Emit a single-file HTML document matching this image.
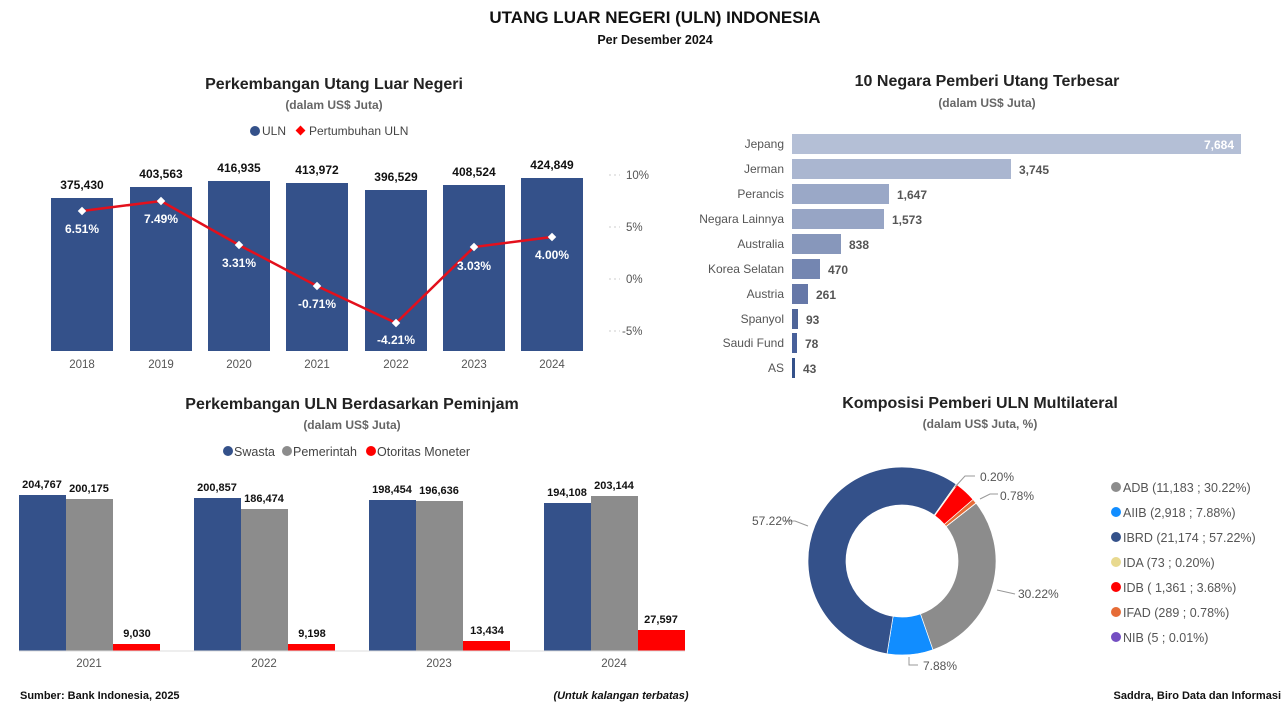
<!DOCTYPE html>
<html><head><meta charset="utf-8"><style>
body{margin:0;width:1286px;height:706px;background:#fff;overflow:hidden;font-family:"Liberation Sans",sans-serif}
svg text{font-family:"Liberation Sans",sans-serif}
</style></head><body>
<svg width="1286" height="706" viewBox="0 0 1286 706" xmlns="http://www.w3.org/2000/svg">
<text x="655" y="23" text-anchor="middle" font-size="17" font-weight="bold" fill="#111">UTANG LUAR NEGERI (ULN) INDONESIA</text>
<text x="655" y="44" text-anchor="middle" font-size="12.5" font-weight="bold" fill="#111">Per Desember 2024</text>

<!-- Chart 1 -->
<text x="334" y="89" text-anchor="middle" font-size="16" font-weight="bold" fill="#222">Perkembangan Utang Luar Negeri</text>
<text x="334" y="109" text-anchor="middle" font-size="12" font-weight="bold" fill="#666">(dalam US$ Juta)</text>
<circle cx="255" cy="131" r="5" fill="#34518a"/><text x="262" y="135" font-size="12" fill="#444">ULN</text>
<rect x="297" y="127" width="7" height="7" fill="#f00" transform="rotate(45 300.5 130.5)"/><text x="309" y="135" font-size="12" fill="#444">Pertumbuhan ULN</text>
<g fill="#34518a">
<rect x="51" y="198" width="62" height="153"/>
<rect x="130" y="187" width="62" height="164"/>
<rect x="208" y="181" width="62" height="170"/>
<rect x="286" y="183" width="62" height="168"/>
<rect x="365" y="190" width="62" height="161"/>
<rect x="443" y="185" width="62" height="166"/>
<rect x="521" y="178" width="62" height="173"/>
</g>
<g font-size="12" font-weight="bold" fill="#111" text-anchor="middle">
<text x="82" y="189">375,430</text><text x="161" y="178">403,563</text><text x="239" y="172">416,935</text><text x="317" y="174">413,972</text><text x="396" y="181">396,529</text><text x="474" y="176">408,524</text><text x="552" y="169">424,849</text>
</g>
<g font-size="11.5" fill="#555" text-anchor="middle">
<text x="82" y="368">2018</text><text x="161" y="368">2019</text><text x="239" y="368">2020</text><text x="317" y="368">2021</text><text x="396" y="368">2022</text><text x="474" y="368">2023</text><text x="552" y="368">2024</text>
</g>
<g font-size="11.5" fill="#555">
<text x="626" y="179">10%</text><text x="626" y="231">5%</text><text x="626" y="283">0%</text><text x="622" y="335">-5%</text>
</g>
<g stroke="#ccc" stroke-dasharray="2,3"><line x1="609" y1="175" x2="620" y2="175"/><line x1="609" y1="227" x2="620" y2="227"/><line x1="609" y1="279" x2="620" y2="279"/><line x1="609" y1="331" x2="620" y2="331"/></g>
<polyline points="82,211 161,201 239,245 317,286 396,323 474,247 552,237" fill="none" stroke="#e3101c" stroke-width="2.5"/>
<g fill="#fff">
<rect x="79" y="208" width="6" height="6" transform="rotate(45 82 211)"/>
<rect x="158" y="198" width="6" height="6" transform="rotate(45 161 201)"/>
<rect x="236" y="242" width="6" height="6" transform="rotate(45 239 245)"/>
<rect x="314" y="283" width="6" height="6" transform="rotate(45 317 286)"/>
<rect x="393" y="320" width="6" height="6" transform="rotate(45 396 323)"/>
<rect x="471" y="244" width="6" height="6" transform="rotate(45 474 247)"/>
<rect x="549" y="234" width="6" height="6" transform="rotate(45 552 237)"/>
</g>
<g font-size="12" font-weight="bold" fill="#fff" text-anchor="middle">
<text x="82" y="233">6.51%</text><text x="161" y="223">7.49%</text><text x="239" y="267">3.31%</text><text x="317" y="308">-0.71%</text><text x="396" y="344">-4.21%</text><text x="474" y="270">3.03%</text><text x="552" y="259">4.00%</text>
</g>

<!-- Chart 2 -->
<text x="987" y="86" text-anchor="middle" font-size="16" font-weight="bold" fill="#222">10 Negara Pemberi Utang Terbesar</text>
<text x="987" y="107" text-anchor="middle" font-size="12" font-weight="bold" fill="#666">(dalam US$ Juta)</text>
<g font-size="12" fill="#555" text-anchor="end">
<text x="784" y="148">Jepang</text><text x="784" y="173">Jerman</text><text x="784" y="198">Perancis</text><text x="784" y="223">Negara Lainnya</text><text x="784" y="248">Australia</text><text x="784" y="273">Korea Selatan</text><text x="784" y="298">Austria</text><text x="784" y="323">Spanyol</text><text x="784" y="347">Saudi Fund</text><text x="784" y="372">AS</text>
</g>
<rect x="792" y="134" width="449" height="20" fill="#b4bfd6"/>
<rect x="792" y="159" width="219" height="20" fill="#aab6d0"/>
<rect x="792" y="184" width="97" height="20" fill="#9aa8c7"/>
<rect x="792" y="209" width="92" height="20" fill="#97a5c5"/>
<rect x="792" y="234" width="49" height="20" fill="#8797bb"/>
<rect x="792" y="259" width="28" height="20" fill="#7486b1"/>
<rect x="792" y="284" width="16" height="20" fill="#6678a8"/>
<rect x="792" y="309" width="6" height="20" fill="#4f6599"/>
<rect x="792" y="333" width="5" height="20" fill="#48609a"/>
<rect x="792" y="358" width="3" height="20" fill="#34518a"/>
<g font-size="12" font-weight="bold" fill="#555">
<text x="1234" y="149" text-anchor="end" fill="#fff">7,684</text>
<text x="1019" y="174">3,745</text><text x="897" y="199">1,647</text><text x="892" y="224">1,573</text><text x="849" y="249">838</text><text x="828" y="274">470</text><text x="816" y="299">261</text><text x="806" y="324">93</text><text x="805" y="348">78</text><text x="803" y="373">43</text>
</g>

<!-- Chart 3 -->
<text x="352" y="409" text-anchor="middle" font-size="16" font-weight="bold" fill="#222">Perkembangan ULN Berdasarkan Peminjam</text>
<text x="352" y="429" text-anchor="middle" font-size="12" font-weight="bold" fill="#666">(dalam US$ Juta)</text>
<circle cx="228" cy="451" r="5" fill="#34518a"/><text x="234" y="456" font-size="12.5" fill="#444">Swasta</text>
<circle cx="287" cy="451" r="5" fill="#8c8c8c"/><text x="293" y="456" font-size="12.5" fill="#444">Pemerintah</text>
<circle cx="371" cy="451" r="5" fill="#f00"/><text x="377" y="456" font-size="12.5" fill="#444">Otoritas Moneter</text>
<g>
<rect x="19" y="495" width="47" height="156" fill="#34518a"/><rect x="66" y="499" width="47" height="152" fill="#8c8c8c"/><rect x="113" y="644" width="47" height="7" fill="#f00"/>
<rect x="194" y="498" width="47" height="153" fill="#34518a"/><rect x="241" y="509" width="47" height="142" fill="#8c8c8c"/><rect x="288" y="644" width="47" height="7" fill="#f00"/>
<rect x="369" y="500" width="47" height="151" fill="#34518a"/><rect x="416" y="501" width="47" height="150" fill="#8c8c8c"/><rect x="463" y="641" width="47" height="10" fill="#f00"/>
<rect x="544" y="503" width="47" height="148" fill="#34518a"/><rect x="591" y="496" width="47" height="155" fill="#8c8c8c"/><rect x="638" y="630" width="47" height="21" fill="#f00"/>
</g>
<line x1="19" y1="651" x2="685" y2="651" stroke="#ddd"/>
<g font-size="11" font-weight="bold" fill="#111" text-anchor="middle">
<text x="42" y="488">204,767</text><text x="89" y="492">200,175</text><text x="137" y="637">9,030</text>
<text x="217" y="491">200,857</text><text x="264" y="502">186,474</text><text x="312" y="637">9,198</text>
<text x="392" y="493">198,454</text><text x="439" y="494">196,636</text><text x="487" y="634">13,434</text>
<text x="567" y="496">194,108</text><text x="614" y="489">203,144</text><text x="661" y="623">27,597</text>
</g>
<g font-size="11.5" fill="#555" text-anchor="middle">
<text x="89" y="667">2021</text><text x="264" y="667">2022</text><text x="439" y="667">2023</text><text x="614" y="667">2024</text>
</g>

<!-- Chart 4 -->
<text x="980" y="408" text-anchor="middle" font-size="16" font-weight="bold" fill="#222">Komposisi Pemberi ULN Multilateral</text>
<text x="980" y="428" text-anchor="middle" font-size="12" font-weight="bold" fill="#666">(dalam US$ Juta, %)</text>
<g id="donut"></g>
<g stroke="#999" fill="none">
<polyline points="955,487 965,476 975,476"/><polyline points="980,499 990,494 998,494"/>
<polyline points="997,590 1015,594"/><polyline points="909,657 909,665 918,665"/><polyline points="808,526 795,521 783,521"/>
</g>
<g font-size="12" fill="#555">
<text x="980" y="481">0.20%</text><text x="1000" y="500">0.78%</text><text x="1018" y="598">30.22%</text><text x="923" y="670">7.88%</text><text x="752" y="525">57.22%</text>
</g>
<g font-size="12.5" fill="#555">
<circle cx="1116" cy="487" r="5" fill="#8c8c8c"/><text x="1123" y="492">ADB (11,183 ; 30.22%)</text>
<circle cx="1116" cy="512" r="5" fill="#118dff"/><text x="1123" y="517">AIIB (2,918 ; 7.88%)</text>
<circle cx="1116" cy="537" r="5" fill="#34518a"/><text x="1123" y="542">IBRD (21,174 ; 57.22%)</text>
<circle cx="1116" cy="562" r="5" fill="#e8d98f"/><text x="1123" y="567">IDA (73 ; 0.20%)</text>
<circle cx="1116" cy="587" r="5" fill="#f00"/><text x="1123" y="592">IDB ( 1,361 ; 3.68%)</text>
<circle cx="1116" cy="612" r="5" fill="#e66c37"/><text x="1123" y="617">IFAD (289 ; 0.78%)</text>
<circle cx="1116" cy="637" r="5" fill="#744ec2"/><text x="1123" y="642">NIB (5 ; 0.01%)</text>
</g>

<text x="20" y="699" font-size="11" font-weight="bold" fill="#111">Sumber: Bank Indonesia, 2025</text>
<text x="621" y="699" text-anchor="middle" font-size="11" font-weight="bold" font-style="italic" fill="#111">(Untuk kalangan terbatas)</text>
<text x="1281" y="699" text-anchor="end" font-size="11" font-weight="bold" fill="#111">Saddra, Biro Data dan Informasi</text>
</svg>
<script>
(function(){
var cx=902,cy=561,R=94,r=56;
var d=[[30.22,"#8c8c8c"],[7.88,"#118dff"],[57.22,"#34518a"],[0.20,"#e8d98f"],[3.68,"#f00"],[0.78,"#e66c37"],[0.02,"#744ec2"]];
var a=52,g=document.getElementById("donut"),s="";
function p(ang,rad){var t=(ang-90)*Math.PI/180;return (cx+rad*Math.cos(t)).toFixed(2)+","+(cy+rad*Math.sin(t)).toFixed(2);}
d.forEach(function(e){var b=a+e[0]*3.6;var l=(b-a)>180?1:0;
s+='<path d="M'+p(a,R)+' A'+R+','+R+' 0 '+l+' 1 '+p(b,R)+' L'+p(b,r)+' A'+r+','+r+' 0 '+l+' 0 '+p(a,r)+' Z" fill="'+e[1]+'" stroke="#fff" stroke-width="0.7"/>';a=b;});
g.innerHTML=s;})();
</script>
</body></html>
